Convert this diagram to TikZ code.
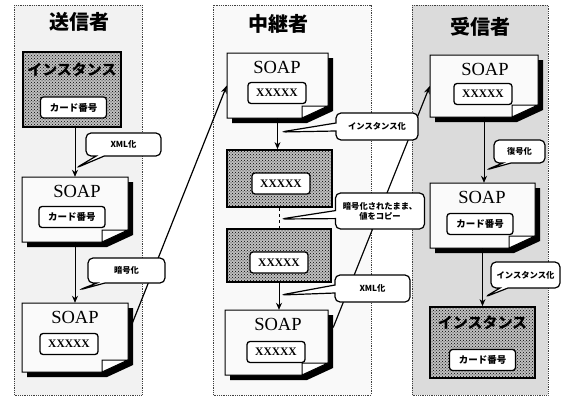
\documentclass[tikz,border=0pt]{standalone}
\usepackage{fontspec}
\setmainfont{Liberation Serif}
\newfontfamily\jp{Noto Sans CJK JP}
\usetikzlibrary{shapes.callouts,patterns,arrows.meta,calc}
\newcommand\soapdoc[5]{%
  \fill[black] ({#2+5},{#3+5}) -- ({#4+5},{#3+5}) -- ({#4+5},{#5-7}) -- ({#4-21},{#5+5}) -- ({#2+5},{#5+5}) -- cycle;
  \draw[docbody] (#2,#3) -- (#4,#3) -- (#4,{#5-12}) -- ({#4-26},#5) -- (#2,#5) -- cycle;
  \draw[docflap] (#4,{#5-12}) -- ({#4-26},{#5-12}) -- ({#4-26},#5) -- cycle;
  \node[inner sep=0, minimum width={#4pt-#2pt}, minimum height={#5pt-#3pt}] (#1) at ({(#2+#4)/2},{(#3+#5)/2}) {};
}
\begin{document}
\begin{tikzpicture}[x=1pt,y=-1pt,
  panel/.style={draw=black!75, densely dotted, line width=0.8pt},
  title/.style={font=\jp\bfseries\fontsize{20}{20}\selectfont, inner sep=0},
  docbody/.style={draw, line width=1pt, fill=gray!4},
  docflap/.style={draw, line width=1pt, fill=white},
  soaptxt/.style={font=\fontsize{18.5}{18.5}\selectfont, inner sep=0},
  ibox/.style={draw, fill=white, rounded corners=3pt, line width=1.3pt, minimum height=21pt, inner sep=0},
  cardtxt/.style={ibox, minimum width=66pt, font=\jp\bfseries\fontsize{9.5}{10}\selectfont},
  xtxt/.style={ibox, minimum width=58pt, font=\bfseries\fontsize{11.5}{12}\selectfont},
  inst/.style={draw, line width=1.8pt, preaction={fill=gray!50}, pattern=crosshatch dots, pattern color=black, inner sep=0},
  bigtxt/.style={font=\jp\bfseries\fontsize{15}{15}\selectfont, inner sep=0},
  callout/.style={rectangle callout, draw, fill=white, line width=1.2pt, rounded corners=5pt, inner sep=1pt, callout pointer width=8pt, font=\jp\bfseries\fontsize{8.3}{10}\selectfont, align=center},
  arr/.style={-{Stealth[length=7pt,width=6pt]}, line width=0.9pt},
  longarr/.style={-{Stealth[length=8pt,width=6pt]}, line width=1.2pt},
]
\useasboundingbox (0,0) rectangle (574,399);
\fill[white] (0,0) rectangle (574,399);
% panels
\filldraw[panel, fill=gray!10] (14,5) rectangle (142,395);
\filldraw[panel, fill=gray!5] (213,5) rectangle (371,395);
\filldraw[panel, fill=gray!28] (412,5) rectangle (548,395);
\node[title] (t1) at (79,22) {送信者};
\node[title] (t2) at (278,24) {中継者};
\node[title] (t3) at (480,27) {受信者};

% ---------- column 1
\node[inst, minimum width=98pt, minimum height=75pt] (inst1) at (72,89.5) {};
\node[bigtxt] (big1) at (72,70) {インスタンス};
\node[cardtxt] (ib1) at (73.5,107.5) {カード番号};
\soapdoc{doc1}{22}{177}{128}{242}
\node[soaptxt] (s1) at (77,191) {SOAP};
\node[cardtxt] (ib2) at (72,217) {カード番号};
\soapdoc{doc2}{22}{303}{128}{372}
\node[soaptxt] (s2) at (75,317) {SOAP};
\node[xtxt] (ib3) at (69,344) {XXXXX};

% ---------- column 2
\soapdoc{doc3}{227}{53}{328}{118}
\node[soaptxt] (s3) at (277,67) {SOAP};
\node[xtxt] (ib4) at (277,93) {XXXXX};
\node[inst, minimum width=105pt, minimum height=57pt] (inst2) at (279.5,178.5) {};
\node[xtxt] (ib5) at (281,183.5) {XXXXX};
\node[inst, minimum width=104pt, minimum height=53pt] (inst3) at (279,255.5) {};
\node[xtxt] (ib6) at (279,262.5) {XXXXX};
\soapdoc{doc4}{225}{310}{328}{375}
\node[soaptxt] (s4) at (278,324) {SOAP};
\node[xtxt] (ib7) at (276,352) {XXXXX};

% ---------- column 3
\soapdoc{doc5}{430}{55}{538}{117}
\node[soaptxt] (s5) at (485,69) {SOAP};
\node[xtxt] (ib8) at (483,94) {XXXXX};
\soapdoc{doc6}{430}{183}{535}{248}
\node[soaptxt] (s6) at (482,197) {SOAP};
\node[cardtxt] (ib9) at (480,224) {カード番号};
\node[inst, minimum width=105pt, minimum height=71pt] (inst4) at (482.5,342.5) {};
\node[bigtxt] (big4) at (482.5,323) {インスタンス};
\node[cardtxt] (ib10) at (482.5,360) {カード番号};

% ---------- long arrows
\draw[longarr] ($(doc2.east)+(4,-14)$) -- (doc3.west);
\draw[longarr] ($(doc4.east)+(5,-15)$) -- (doc5.west);

% ---------- vertical arrows
\draw[arr] (doc1.north |- inst1.south) -- (doc1.north);
\draw[arr] (doc1.south) -- (doc2.north);
\draw[arr] (doc3.south) -- (doc3.south |- inst2.north);
\draw[dashed, line width=0.9pt] (inst2.south) -- (inst2.south |- inst3.north);
\draw[arr] (inst3.south) -- (inst3.south |- doc4.north);
\draw[arr] (doc5.south) -- (doc5.south |- doc6.north);
\draw[arr] (doc6.south) -- (doc6.south |- inst4.north);

% ---------- callouts
\coordinate (p1) at (76,168);
\coordinate (p2) at (79,290);
\coordinate (p3) at (281,132);
\coordinate (p4) at (281,219);
\coordinate (p5) at (281,295);
\coordinate (p6) at (486,170);
\coordinate (p7) at (485,297);
\node[callout, minimum width=75pt, minimum height=23pt, callout absolute pointer={(p1)}] (c1) at (123.5,144.5) {XML化};
\node[callout, minimum width=77pt, minimum height=25pt, callout absolute pointer={(p2)}] (c2) at (126.5,270.5) {暗号化};
\node[callout, minimum width=82pt, minimum height=27pt, callout absolute pointer={(p3)}] (c3) at (377,126.5) {インスタンス化};
\node[callout, minimum width=89pt, minimum height=36pt, callout absolute pointer={(p4)}] (c4) at (380,211) {暗号化されたまま、\\値をコピー};
\node[callout, minimum width=75pt, minimum height=27pt, callout absolute pointer={(p5)}] (c5) at (372.5,288.5) {XML化};
\node[callout, minimum width=51pt, minimum height=23pt, callout absolute pointer={(p6)}] (c6) at (519.5,151.5) {復号化};
\node[callout, minimum width=69pt, minimum height=26pt, callout absolute pointer={(p7)}] (c7) at (525.5,275) {インスタンス化};
\end{tikzpicture}
\end{document}
